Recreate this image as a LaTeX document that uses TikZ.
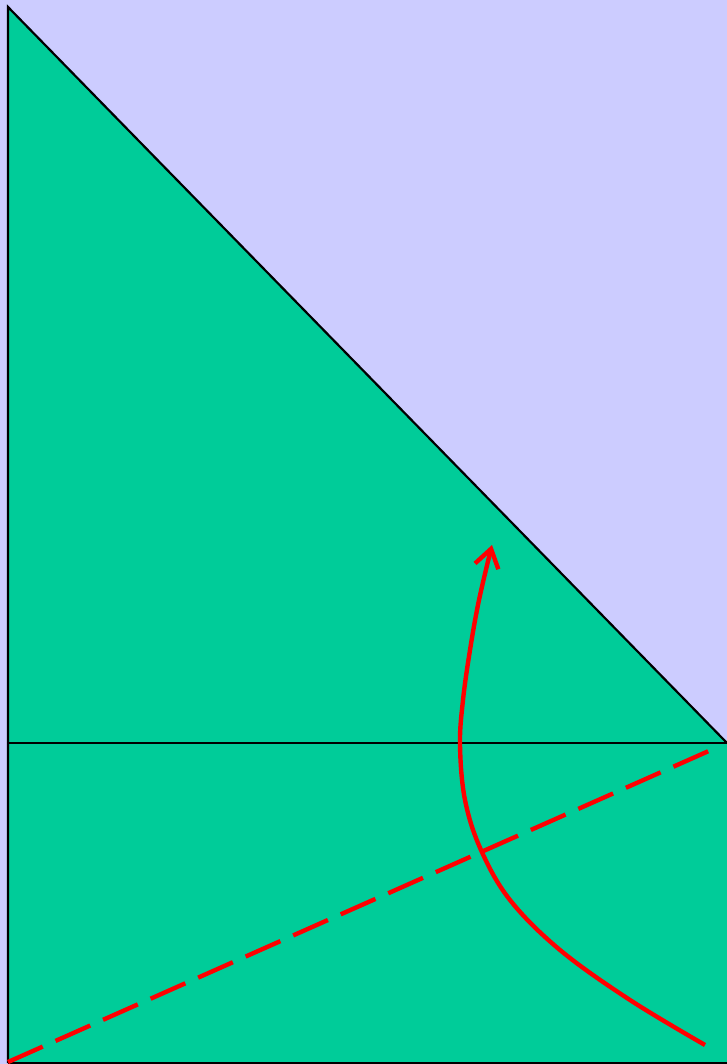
\documentclass[tikz,border=0pt]{standalone}
\usetikzlibrary{arrows.meta}
\definecolor{lav}{HTML}{CCCCFF}
\definecolor{grn}{HTML}{00CC99}
\tikzset{
  edge/.style={black, line width=2.2pt},
  redline/.style={red, line width=4.4pt},
}
\begin{document}
\begin{tikzpicture}[x=1pt,y=-1pt]
\fill[lav] (0,0) rectangle (727,1064);
\useasboundingbox (0,0) rectangle (727,1064);
\coordinate (T) at (8,7);
\coordinate (R) at (727,743);
\coordinate (L) at (8,743);
\coordinate (BR) at (727,1063);
\coordinate (BL) at (8,1063);
\coordinate (D1) at (8,1062);
\coordinate (D2) at (720,746);
\fill[grn] (T) -- (R) -- (BR) -- (BL) -- cycle;
\draw[edge] (BL) -- (T) -- (R);
\draw[edge] (L) -- (R);
\draw[edge] (BL) -- (BR);
\draw[redline, dash pattern=on 38pt off 14pt] (D1) -- (D2);
\draw[redline, -{Straight Barb[length=18pt,width=24pt,line width=4.4pt]}]
  plot[smooth, tension=0.6] coordinates {(705,1045) (630,1000) (560,950) (510,900) (481,850) (465,800) (460,745) (463,700) (470,650) (479,600) (492,545)};
\end{tikzpicture}
\end{document}
